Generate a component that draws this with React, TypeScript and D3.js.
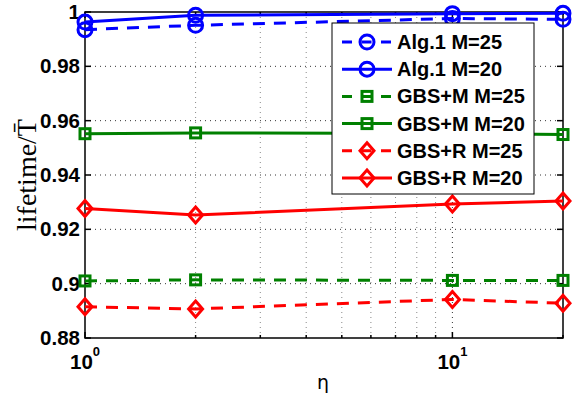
import React, { useEffect, useRef } from "react";
import * as d3 from "d3";

const etas = [1, 2, 10, 20];
const alg1M25 = [0.9935, 0.9951, 0.9976, 0.9973];
const alg1M20 = [0.9963, 0.9988, 0.9994, 0.9995];
const gbsmM25 = [0.901, 0.9014, 0.9012, 0.9012];
const gbsmM20 = [0.9552, 0.9555, 0.9553, 0.9549];
const gbsrM25 = [0.8915, 0.8907, 0.8942, 0.8928];
const gbsrM20 = [0.9277, 0.9253, 0.9293, 0.9304];

const yTicks = [0.88, 0.9, 0.92, 0.94, 0.96, 0.98, 1];
const xMajor = [1, 10];
const xMinor = [2, 3, 4, 5, 6, 7, 8, 9, 20];

const series = [
  { name: "Alg.1 M=25", values: alg1M25, color: "#0000ff", dashed: true, marker: "circle" },
  { name: "Alg.1 M=20", values: alg1M20, color: "#0000ff", dashed: false, marker: "circle" },
  { name: "GBS+M M=25", values: gbsmM25, color: "#008000", dashed: true, marker: "square" },
  { name: "GBS+M M=20", values: gbsmM20, color: "#008000", dashed: false, marker: "square" },
  { name: "GBS+R M=25", values: gbsrM25, color: "#ff0000", dashed: true, marker: "diamond" },
  { name: "GBS+R M=20", values: gbsrM20, color: "#ff0000", dashed: false, marker: "diamond" },
];

const App = () => {
  const svgRef = useRef<SVGSVGElement>(null);

  useEffect(() => {
    const svg = d3.select(svgRef.current);
    svg.selectAll("*").remove();

    const left = 85, right = 563, top = 12, bottom = 338;
    const x = d3.scaleLog().domain([1, 20]).range([left, right]);
    const y = d3.scaleLinear().domain([0.88, 1]).range([bottom, top]);
    const font = "'Liberation Sans', Arial, sans-serif";

    svg.append("rect").attr("width", 572).attr("height", 403).attr("fill", "#fff");

    // grid
    const grid = svg.append("g");
    grid.selectAll(".gy")
      .data(yTicks.slice(1, -1))
      .join("line")
      .attr("x1", left).attr("x2", right)
      .attr("y1", (d) => y(d)).attr("y2", (d) => y(d))
      .attr("stroke", "#333").attr("stroke-width", 1)
      .attr("stroke-dasharray", "1,4");
    grid.selectAll(".gxm")
      .data(xMinor.filter((d) => d < 20))
      .join("line")
      .attr("x1", (d) => x(d)).attr("x2", (d) => x(d))
      .attr("y1", top).attr("y2", bottom)
      .attr("stroke", "#888").attr("stroke-width", 1)
      .attr("stroke-dasharray", "1,4");
    grid.append("line")
      .attr("x1", x(10)).attr("x2", x(10))
      .attr("y1", top).attr("y2", bottom)
      .attr("stroke", "#333").attr("stroke-width", 1)
      .attr("stroke-dasharray", "1,4");

    // axes box + ticks
    const ax = svg.append("g").attr("stroke", "#000").attr("stroke-width", 1.5);
    ax.append("rect")
      .attr("x", left).attr("y", top)
      .attr("width", right - left).attr("height", bottom - top)
      .attr("fill", "none");
    yTicks.forEach((t) => {
      ax.append("line").attr("x1", left).attr("x2", left + 6).attr("y1", y(t)).attr("y2", y(t));
      ax.append("line").attr("x1", right).attr("x2", right - 6).attr("y1", y(t)).attr("y2", y(t));
    });
    xMajor.forEach((t) => {
      ax.append("line").attr("x1", x(t)).attr("x2", x(t)).attr("y1", bottom).attr("y2", bottom - 6);
      ax.append("line").attr("x1", x(t)).attr("x2", x(t)).attr("y1", top).attr("y2", top + 6);
    });
    xMinor.forEach((t) => {
      ax.append("line").attr("x1", x(t)).attr("x2", x(t)).attr("y1", bottom).attr("y2", bottom - 3);
      ax.append("line").attr("x1", x(t)).attr("x2", x(t)).attr("y1", top).attr("y2", top + 3);
    });

    // tick labels
    svg.append("g").selectAll("text")
      .data(yTicks)
      .join("text")
      .attr("x", left - 5)
      .attr("y", (d) => y(d) + 7)
      .attr("text-anchor", "end")
      .attr("font-family", font).attr("font-weight", "bold").attr("font-size", 20.5)
      .text((d) => d3.format("")(d));

    xMajor.forEach((t, i) => {
      const tx = svg.append("text")
        .attr("x", x(t) - 15).attr("y", 369)
        .attr("font-family", font).attr("font-weight", "bold").attr("font-size", 20.5);
      tx.append("tspan").text("10");
      tx.append("tspan").attr("dy", -13).attr("font-size", 13).text(String(i));
    });

    // axis labels
    svg.append("text")
      .attr("x", 323).attr("y", 389)
      .attr("text-anchor", "middle")
      .attr("font-family", "'DejaVu Sans', sans-serif").attr("font-size", 19)
      .text("η");
    svg.append("text")
      .attr("transform", "translate(36,175) rotate(-90)")
      .attr("text-anchor", "middle")
      .attr("font-family", "'Liberation Serif', 'Times New Roman', serif").attr("font-size", 28)
      .text("lifetime/T\u0304");

    const line = d3.line<number>()
      .x((_, i) => x(etas[i]))
      .y((d) => y(d));

    const drawMarker = (g: any, kind: string, cx: number, cy: number, color: string) => {
      if (kind === "circle") {
        g.append("circle").attr("cx", cx).attr("cy", cy).attr("r", 7)
          .attr("fill", "none").attr("stroke", color).attr("stroke-width", 3);
      } else if (kind === "square") {
        g.append("rect").attr("x", cx - 5).attr("y", cy - 5).attr("width", 10).attr("height", 10)
          .attr("fill", "none").attr("stroke", color).attr("stroke-width", 3);
      } else {
        g.append("path")
          .attr("d", `M${cx},${cy - 8}L${cx + 7},${cy}L${cx},${cy + 8}L${cx - 7},${cy}Z`)
          .attr("fill", "none").attr("stroke", color).attr("stroke-width", 3);
      }
    };

    const plot = svg.append("g");
    series.forEach((s) => {
      plot.append("path")
        .attr("d", line(s.values))
        .attr("fill", "none")
        .attr("stroke", s.color)
        .attr("stroke-width", 3)
        .attr("stroke-dasharray", s.dashed ? "12,9" : null);
      s.values.forEach((v, i) => drawMarker(plot, s.marker, x(etas[i]), y(v), s.color));
    });

    // legend
    const lg = svg.append("g");
    lg.append("rect")
      .attr("x", 332).attr("y", 23).attr("width", 202).attr("height", 171)
      .attr("fill", "#fff").attr("stroke", "#000").attr("stroke-width", 1);
    series.forEach((s, i) => {
      const cy = 42 + i * 27.2;
      lg.append("line")
        .attr("x1", 342).attr("x2", 392).attr("y1", cy).attr("y2", cy)
        .attr("stroke", s.color).attr("stroke-width", 3)
        .attr("stroke-dasharray", s.dashed ? "10,9.5" : null);
      drawMarker(lg, s.marker, 367, cy, s.color);
      lg.append("text")
        .attr("x", 397).attr("y", cy + 7)
        .attr("font-family", font).attr("font-weight", "bold").attr("font-size", 20)
        .text(s.name);
    });
  }, []);

  return (
    <svg
      ref={svgRef}
      width={572}
      height={403}
      style={{ position: "absolute", left: 0, top: 0 }}
    />
  );
};

export default App;
